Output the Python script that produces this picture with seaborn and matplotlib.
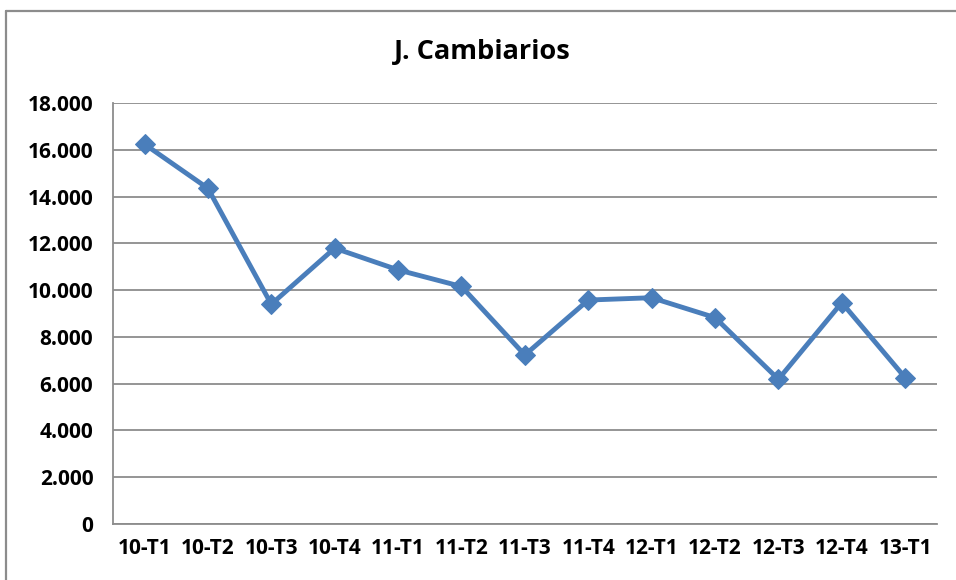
import matplotlib
matplotlib.use("Agg")
import matplotlib.pyplot as plt
import matplotlib.ticker as mticker
import numpy as np
import pandas as pd
import seaborn as sns

# datos
periodos = ['10-T1', '10-T2', '10-T3', '10-T4', '11-T1', '11-T2', '11-T3',
            '11-T4', '12-T1', '12-T2', '12-T3', '12-T4', '13-T1']
valores = [16250, 14360, 9400, 11800, 10870, 10160, 7230,
           9580, 9680, 8830, 6190, 9470, 6260]
titulo = 'J. Cambiarios'

df = pd.DataFrame({'periodo': periodos, 'valor': valores})
df['x'] = np.arange(len(df))

sns.set_style("white")
plt.rcParams['font.family'] = ['Open Sans', 'DejaVu Sans']
plt.rcParams['text.color'] = 'black'
plt.rcParams['xtick.color'] = 'black'
plt.rcParams['ytick.color'] = 'black'

fig = plt.figure(figsize=(9.56, 5.80), dpi=100)
ax = fig.add_axes([0.118, 0.0966, 0.862, 0.7254])

azul = '#4a7ebb'
sns.lineplot(data=df, x='x', y='valor', ax=ax, color=azul, linewidth=3.5,
             marker='D', markersize=10.5, markeredgecolor=azul, markerfacecolor=azul)

ax.set_xlim(-0.5, len(df) - 0.5)
ax.set_ylim(0, 18000)
ax.set_yticks(np.arange(0, 18001, 2000))
ax.yaxis.set_major_formatter(mticker.FuncFormatter(
    lambda v, p: '0' if v == 0 else f'{int(v):,}'.replace(',', '.')))
ax.set_xticks(df['x'])
ax.set_xticklabels(periodos)
ax.set_xticks(np.arange(-0.5, len(df), 1), minor=True)
ax.tick_params(axis='x', which='major', length=0, pad=10, labelsize=15)
ax.tick_params(axis='x', which='minor', length=6, width=1.2, color='#8c8c8c', direction='out')
ax.tick_params(axis='y', length=6, width=1.2, color='#8c8c8c', labelcolor='black',
               direction='out', labelsize=15, pad=8)
for lab in ax.get_xticklabels() + ax.get_yticklabels():
    lab.set_fontweight('bold')

ax.grid(axis='y', color='#8c8c8c', linewidth=1.3)
ax.set_axisbelow(True)
for s in ['top', 'right']:
    ax.spines[s].set_visible(False)
for s in ['left', 'bottom']:
    ax.spines[s].set_color('#8c8c8c')
    ax.spines[s].set_linewidth(1.3)
ax.set_xlabel('')
ax.set_ylabel('')

fig.text(0.505, 0.91, titulo, ha='center', va='center', fontsize=19.5, fontweight='bold')

# marco exterior (solo arriba e izquierda, como en el original recortado)
fig.add_artist(plt.Line2D([6 / 956, 1.0], [1 - 10.5 / 580, 1 - 10.5 / 580],
                          transform=fig.transFigure, color='#8c8c8c', linewidth=1.6))
fig.add_artist(plt.Line2D([6 / 956, 6 / 956], [0.0, 1 - 10.5 / 580],
                          transform=fig.transFigure, color='#8c8c8c', linewidth=1.6))

fig.savefig('out.png', dpi=100)
